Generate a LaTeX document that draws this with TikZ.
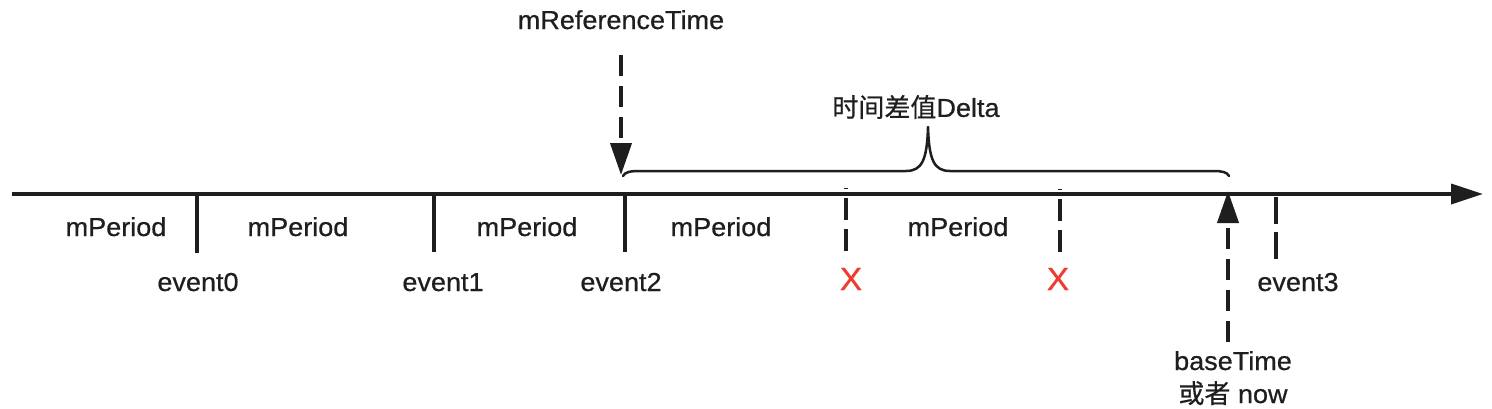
\documentclass[tikz,border=0pt]{standalone}
\usepackage{fontspec}
\setmainfont{Liberation Sans}[FakeStretch=1.04,FakeBold=0.6]
\newfontfamily\cjk{Noto Sans CJK SC}[FakeBold=0.5]
\usetikzlibrary{arrows.meta}
\definecolor{ink}{HTML}{1E1E1E}
\definecolor{xred}{HTML}{EE3B2E}
\begin{document}
\begin{tikzpicture}[x=1pt,y=-1pt,
  lbl/.style={text=ink, inner sep=0pt, anchor=base, font=\fontsize{26}{30}\selectfont},
  xmark/.style={text=xred, inner sep=0pt, anchor=base, font=\fontsize{32}{36}\selectfont},
  axisline/.style={draw=ink, line width=3.5pt, -{Triangle[length=32pt,width=20pt]}},
  tickline/.style={draw=ink, line width=3.5pt},
  dtick/.style={tickline, dash pattern=on 22pt off 9pt},
  dtickb/.style={tickline, dash pattern=on 27pt off 8pt},
  darrow/.style={draw=ink, line width=4pt, dash pattern=on 21pt off 10pt, -{Triangle[length=32pt,width=21pt]}},
  bracestyle/.style={draw=ink, line width=2.5pt, line cap=round, line join=round}]
\useasboundingbox (0,0) rectangle (1492,408);
\fill[white] (0,0) rectangle (1492,408);

% axis
\coordinate (axL) at (12,194);
\coordinate (axR) at (1483,194);
\draw[axisline] (axL) -- (axR);

% solid ticks
\coordinate (t0a) at (197,194); \coordinate (t0b) at (197,253);
\coordinate (t1a) at (434,194); \coordinate (t1b) at (434,252);
\coordinate (t2a) at (625,194); \coordinate (t2b) at (625,252);
\draw[tickline] (t0a) -- (t0b);
\draw[tickline] (t1a) -- (t1b);
\draw[tickline] (t2a) -- (t2b);

% dashed ticks
\coordinate (x1b) at (846,251); \coordinate (x1a) at (846,188);
\coordinate (x2b) at (1060,252); \coordinate (x2a) at (1060,189);
\coordinate (t3a) at (1276,197); \coordinate (t3b) at (1276,260);
\draw[dtick] (x1b) -- (x1a);
\draw[dtick] (x2b) -- (x2a);
\draw[dtickb] (t3a) -- (t3b);

% period labels
\node[lbl] (p0) at (116,236) {mPeriod};
\node[lbl] (p1) at (298,236) {mPeriod};
\node[lbl] (p2) at (527,236) {mPeriod};
\node[lbl] (p3) at (721,236) {mPeriod};
\node[lbl] (p4) at (958,236) {mPeriod};

% event labels
\node[lbl] (e0) at (198,291) {event0};
\node[lbl] (e1) at (443,291) {event1};
\node[lbl] (e2) at (621,291) {event2};
\node[lbl] (e3) at (1298,291) {event3};
\node[xmark] (xa) at (851,290) {X};
\node[xmark] (xb) at (1058,290) {X};

% mReferenceTime
\node[lbl] (ref) at (621,29) {mReferenceTime};
\coordinate (refS) at (621,55);
\coordinate (refE) at (621,175);
\draw[darrow] (refS) -- (refE);

% baseTime
\node[lbl] (base) at (1233,370) {baseTime};
\node[lbl] (now) at (1233,403) {{\cjk 或者} now};
\coordinate (baseS) at (1228,342);
\coordinate (baseE) at (1228,191);
\draw[darrow] (baseS) -- (baseE);

% brace
\coordinate (bL) at (623,176);
\coordinate (bT) at (928,127);
\coordinate (bR) at (1229,176);
\draw[bracestyle] (bL) .. controls (625,172) and (630,171) .. (640,171)
  -- (906,171) .. controls (922,171) and (927,160) .. (bT)
  .. controls (929,160) and (934,171) .. (950,171)
  -- (1213,171) .. controls (1222,171) and (1227,172) .. (bR);
\node[lbl, anchor=center] (delta) at (916,107) {{\cjk 时间差值}Delta};
\end{tikzpicture}
\end{document}
